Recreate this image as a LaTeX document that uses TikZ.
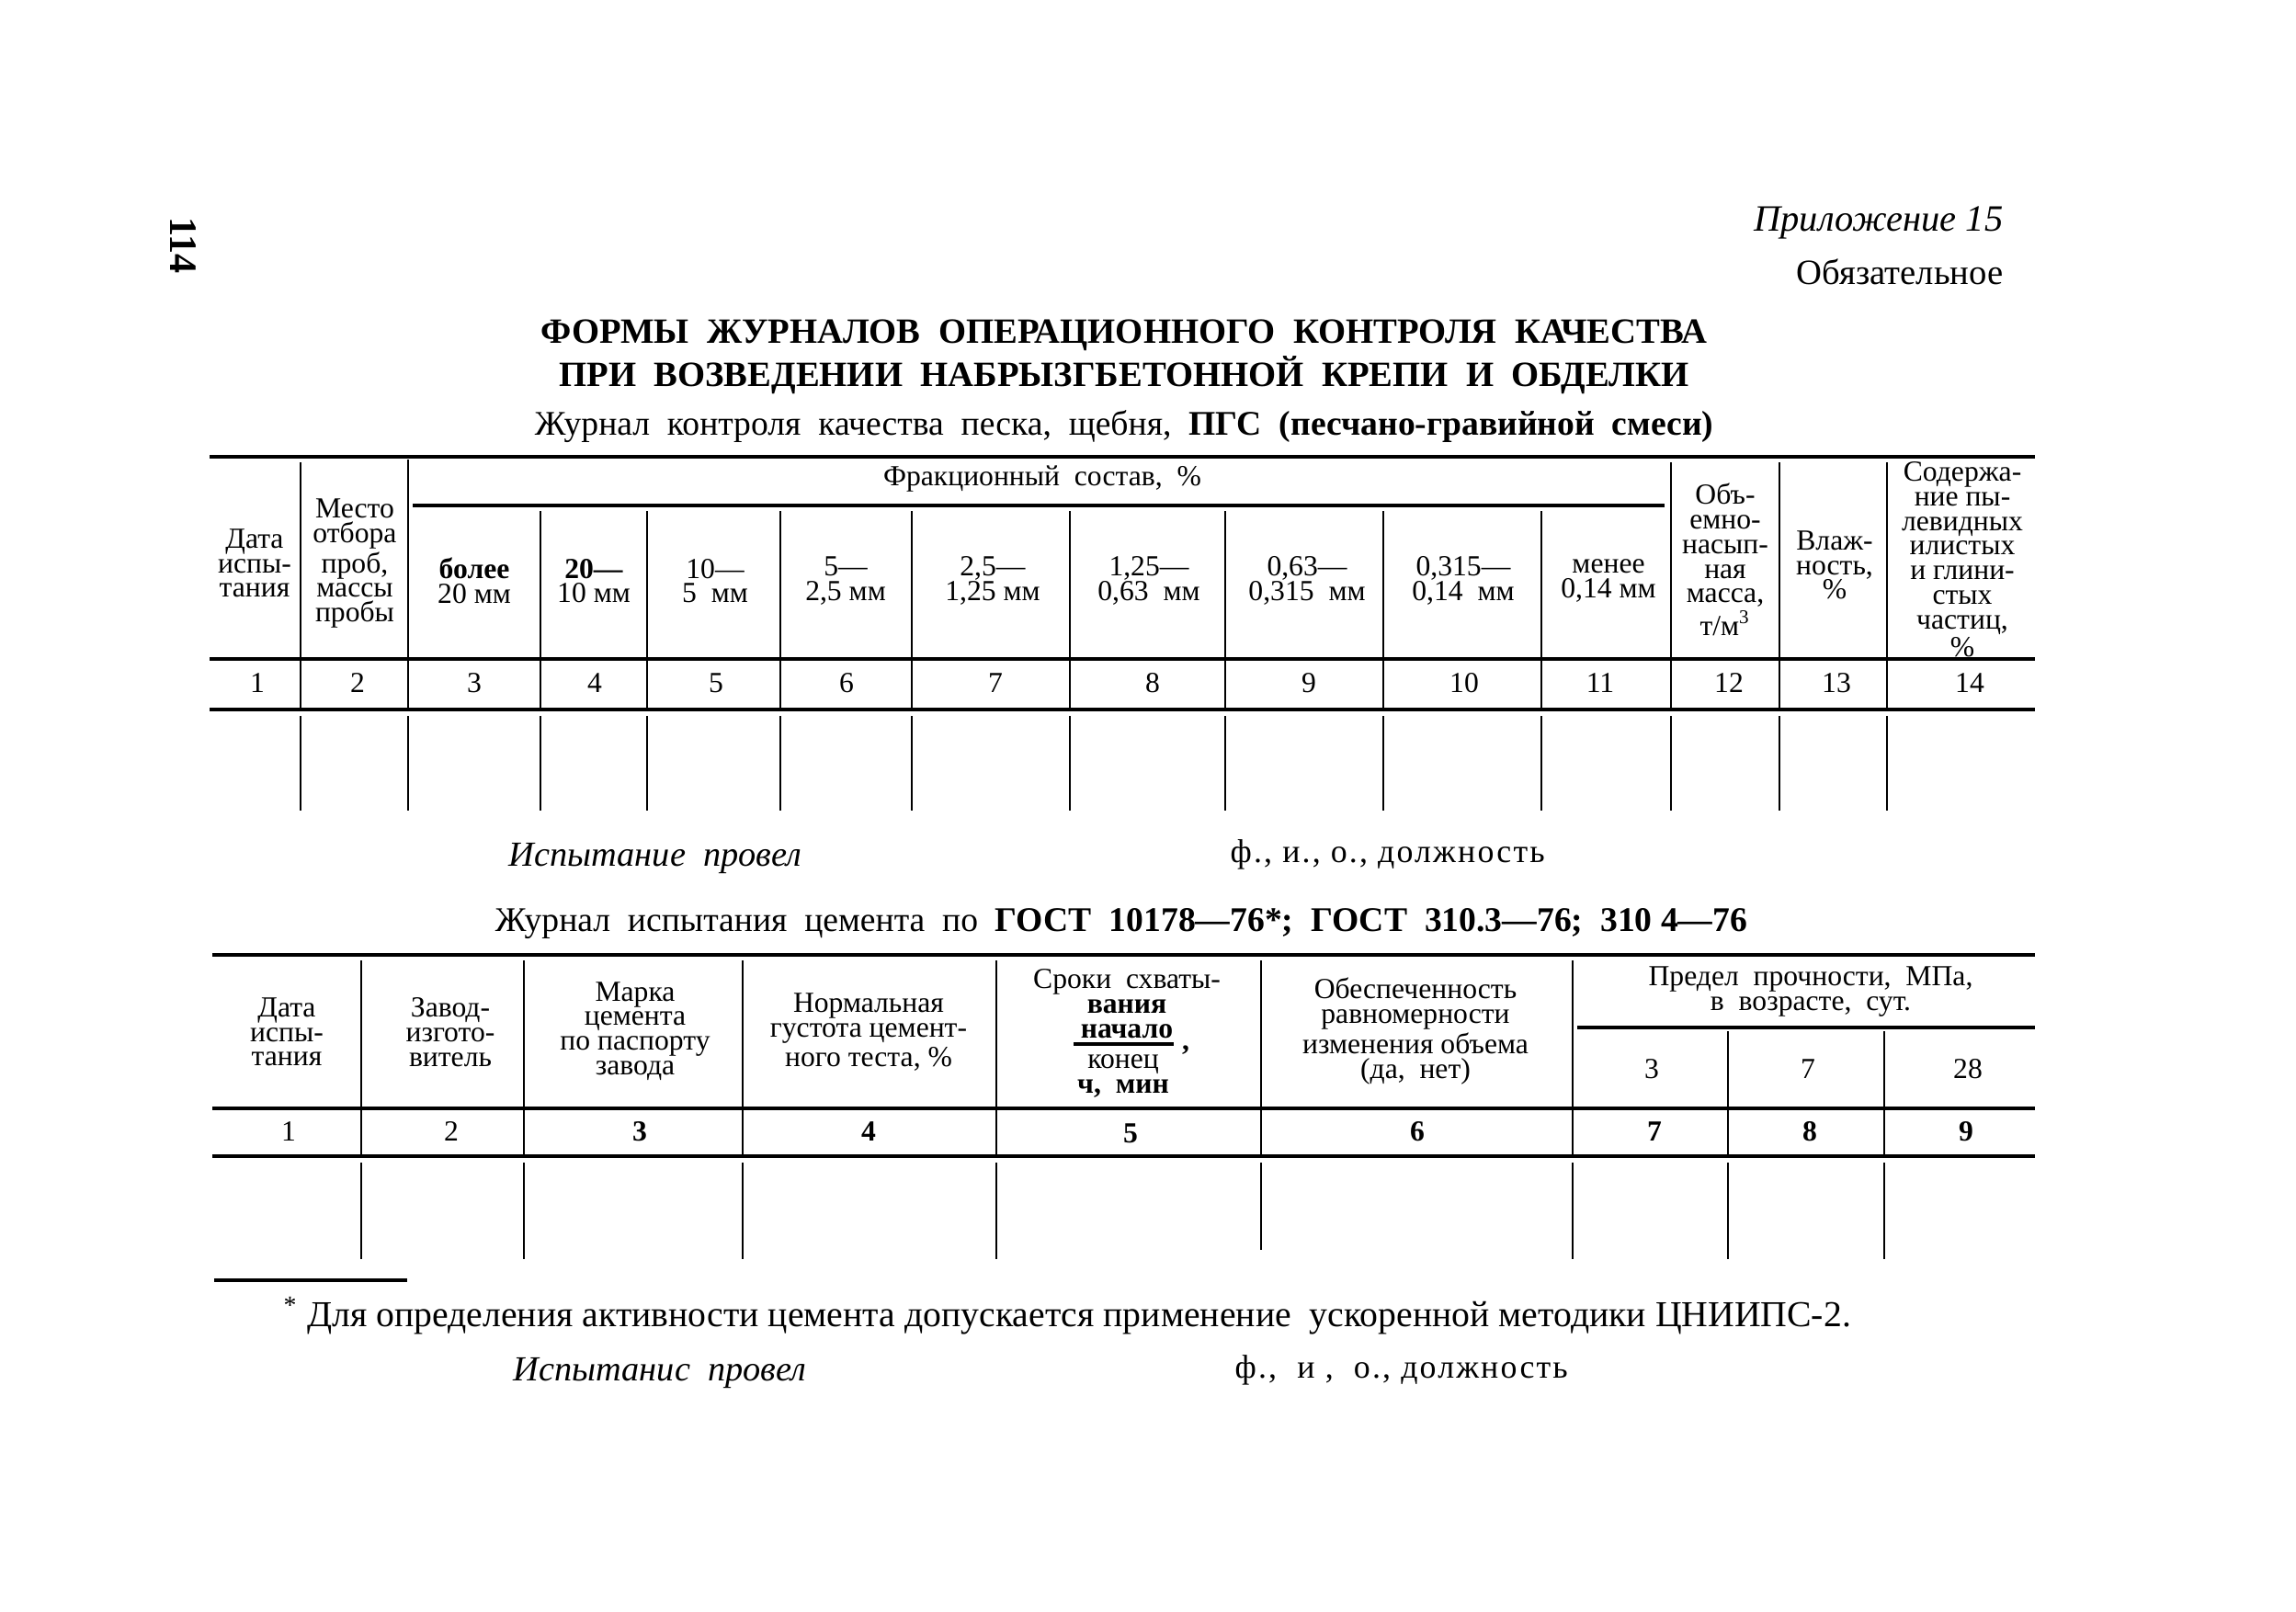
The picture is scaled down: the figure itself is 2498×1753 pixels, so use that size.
\documentclass[tikz,border=0pt]{standalone}
\usepackage{fontspec}
\setmainfont{Liberation Serif}
\newfontfamily\spacedfont{Liberation Serif}[LetterSpace=6]
\usetikzlibrary{positioning}
\tikzset{
    x=0.01cm, y=-0.01cm, % one unit is one pixel of the scanned page
    hrule/.style={line width=0.9pt}, % horizontal rules of the tables
    vrule/.style={line width=0.6pt}, % column lines
    head/.style={align=center, inner sep=0pt, font=\fontsize{9}{7.6}\selectfont},
    num/.style={inner sep=0pt, font=\fontsize{9}{9}\selectfont},
    bignum/.style={inner sep=0pt, font=\fontsize{9}{9}\selectfont\bfseries},
    title/.style={inner sep=0pt, font=\fontsize{11}{11}\selectfont\bfseries},
    subtitle/.style={inner sep=0pt, font=\fontsize{10.7}{10.7}\selectfont},
    sign/.style={inner sep=0pt, anchor=west, font=\fontsize{10.9}{10.9}\selectfont\itshape},
    fio/.style={inner sep=0pt, anchor=west, font=\fontsize{10.2}{10.2}\selectfont\spacedfont},
}

\begin{document}
\begin{tikzpicture}
    \useasboundingbox (0,0) rectangle (2498,1753);

    % page head
    \node[inner sep=0pt, rotate=-90, font=\fontsize{12}{12}\selectfont\bfseries] (page) at (199,267) {114};
    \node[inner sep=0pt, anchor=east, font=\fontsize{11.5}{11.5}\selectfont\itshape] (appx) at (2180,242) {Приложение 15};
    \node[inner sep=0pt, anchor=east, font=\fontsize{11}{11}\selectfont] (oblig) at (2180,296) {Обязательное};
    \node[title] (title1) at (1223,365) {ФОРМЫ \ ЖУРНАЛОВ \ ОПЕРАЦИОННОГО \ КОНТРОЛЯ \ КАЧЕСТВА};
    \node[title] (title2) at (1223,408) {ПРИ \ ВОЗВЕДЕНИИ \ НАБРЫЗГБЕТОННОЙ \ КРЕПИ \ И \ ОБДЕЛКИ};
    \node[subtitle] (sub1) at (1223,464) {Журнал \ контроля \ качества \ песка, \ щебня, \ \textbf{ПГС \ (песчано-гравийной \ смеси)}};

    % first table: rules
    \draw[hrule] (228,497) -- (2214,497)
                 (449,550) -- (1811,550)
                 (228,717) -- (2214,717)
                 (228,772) -- (2214,772);
    \draw[vrule] (327,503) -- (327,770)   (444,500) -- (444,770)
                 (588,556) -- (588,770)   (704,556) -- (704,770)
                 (849,556) -- (849,770)   (992,556) -- (992,770)
                 (1164,556) -- (1164,770) (1333,556) -- (1333,770)
                 (1505,556) -- (1505,770) (1677,556) -- (1677,770)
                 (1818,503) -- (1818,770) (1936,503) -- (1936,770)
                 (2053,503) -- (2053,770);
    \draw[vrule] (327,779) -- (327,882)   (444,779) -- (444,882)
                 (588,779) -- (588,882)   (704,779) -- (704,882)
                 (849,779) -- (849,882)   (992,779) -- (992,882)
                 (1164,779) -- (1164,882) (1333,779) -- (1333,882)
                 (1505,779) -- (1505,882) (1677,779) -- (1677,882)
                 (1818,779) -- (1818,882) (1936,779) -- (1936,882)
                 (2053,779) -- (2053,882);

    % first table: head
    \node[head] (dateA) at (277,613) {Дата\\испы-\\тания};
    \node[head] (place) at (386,613) {Место\\отбора\\проб,\\массы\\пробы};
    \node[head] (fract) at (1134,521) {Фракционный \ состав, \ \%};
    \node[head] (frA) at (516,632) {\textbf{более}\\20 мм};
    \node[head] (frB) at (646,632) {\textbf{20—}\\10 мм};
    \node[head] (frC) at (778,632) {10—\\5 \ мм};
    \node[head] (frD) at (920,632) {5—\\2,5 мм};
    \node[head] (frE) at (1080,632) {2,5—\\1,25 мм};
    \node[head] (frF) at (1250,632) {1,25—\\0,63 \ мм};
    \node[head] (frG) at (1422,632) {0,63—\\0,315 \ мм};
    \node[head] (frH) at (1592,632) {0,315—\\0,14 \ мм};
    \node[head] (frI) at (1750,632) {менее\\0,14 мм};
    \node[head] (bulk) at (1877,609) {Объ-\\емно-\\насып-\\ная\\масса,\\т/м\textsuperscript{3}};
    \node[head] (moist) at (1996,615) {Влаж-\\ность,\\\%};
    \node[head] (dust) at (2135,609) {Содержа-\\ние пы-\\левидных\\илистых\\и глини-\\стых\\частиц,\\\%};

    % first table: column numbers
    \node[num] (nA1) at (280,743) {1};
    \node[num] (nA2) at (389,743) {2};
    \node[num] (nA3) at (516,743) {3};
    \node[num] (nA4) at (647,743) {4};
    \node[num] (nA5) at (779,743) {5};
    \node[num] (nA6) at (921,743) {6};
    \node[num] (nA7) at (1083,743) {7};
    \node[num] (nA8) at (1254,743) {8};
    \node[num] (nA9) at (1424,743) {9};
    \node[num] (nA10) at (1593,743) {10};
    \node[num] (nA11) at (1741,743) {11};
    \node[num] (nA12) at (1881,743) {12};
    \node[num] (nA13) at (1998,743) {13};
    \node[num] (nA14) at (2143,743) {14};

    \node[sign] (signA) at (553,934) {Испытание \ провел};
    \node[fio] (fioA) at (1338,930) {ф., и., о., должность};

    % second table
    \node[subtitle] (sub2) at (1220,1005) {Журнал \ испытания \ цемента \ по \ \textbf{ГОСТ \ 10178—76*; \ ГОСТ \ 310.3—76; \ 310 4—76}};
    \draw[hrule] (231,1039) -- (2214,1039)
                 (1716,1118) -- (2214,1118)
                 (231,1206) -- (2214,1206)
                 (231,1258) -- (2214,1258);
    \draw[vrule] (393,1045) -- (393,1256)   (570,1045) -- (570,1256)
                 (808,1045) -- (808,1256)   (1084,1045) -- (1084,1256)
                 (1372,1045) -- (1372,1256) (1711,1045) -- (1711,1256)
                 (1880,1122) -- (1880,1256) (2050,1122) -- (2050,1256);
    \draw[vrule] (393,1265) -- (393,1370)   (570,1265) -- (570,1370)
                 (808,1265) -- (808,1370)   (1084,1265) -- (1084,1370)
                 (1372,1265) -- (1372,1360) (1711,1265) -- (1711,1370)
                 (1880,1265) -- (1880,1370) (2050,1265) -- (2050,1370);

    \node[head] (dateB) at (312,1123) {Дата\\испы-\\тания};
    \node[head] (maker) at (490,1123) {Завод-\\изгото-\\витель};
    \node[head] (brand) at (691,1122) {Марка\\цемента\\по паспорту\\завода};
    \node[head] (dens) at (945,1123) {Нормальная\\густота цемент-\\ного теста, \%};
    \node[head] (setting) at (1226,1092) {Сроки \ схваты-\\\textbf{вания}\\\textbf{начало}};
    \draw[hrule] (1168,1136) -- (1277,1136);
    \node[head] (comma) at (1290,1143) {\textbf{,}};
    \node[head] (stop) at (1222,1171) {конец\\\textbf{ч, \ мин}};
    \node[head] (volume) at (1540,1122) {Обеспеченность\\равномерности\\изменения объема\\(да, \ нет)};
    \node[head] (strength) at (1970,1079) {Предел \ прочности, \ МПа,\\в \ возрасте, \ сут.};
    \node[num] (dayA) at (1797,1163) {3};
    \node[num] (dayB) at (1967,1163) {7};
    \node[num] (dayC) at (2141,1163) {28};

    % second table: column numbers
    \node[num] (nB1) at (314,1231) {1};
    \node[num] (nB2) at (491,1231) {2};
    \node[bignum] (nB3) at (696,1231) {3};
    \node[bignum] (nB4) at (945,1231) {4};
    \node[bignum] (nB5) at (1230,1233) {5};
    \node[bignum] (nB6) at (1542,1231) {6};
    \node[bignum] (nB7) at (1800,1231) {7};
    \node[bignum] (nB8) at (1969,1231) {8};
    \node[bignum] (nB9) at (2139,1231) {9};

    % footnote
    \draw[hrule] (233,1393) -- (443,1393);
    \node[inner sep=0pt, anchor=west, font=\fontsize{11.3}{11.3}\selectfont] (note) at (308,1432) {\textsuperscript{*} Для определения активности цемента допускается применение \ ускоренной методики ЦНИИПС-2.};
    \node[sign] (signB) at (558,1494) {Испытанис \ провел};
    \node[fio] (fioB) at (1343,1491) {ф., \ и , \ о., должность};
\end{tikzpicture}
\end{document}
